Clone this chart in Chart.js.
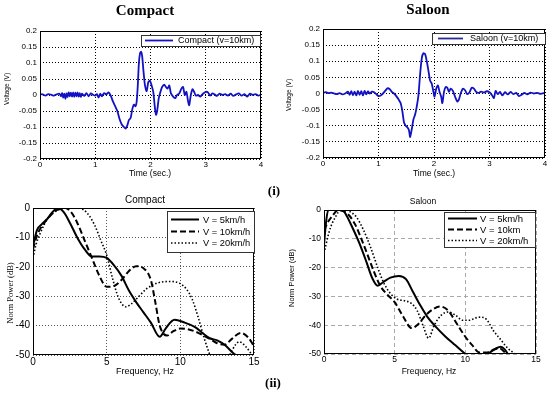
<!DOCTYPE html>
<html>
<head>
<meta charset="utf-8">
<script src="https://cdn.jsdelivr.net/npm/chart.js@4.4.0/dist/chart.umd.min.js"></script>
<style>
  body { margin: 0; background: #fff; }
  #wrap { position: relative; width: 550px; height: 395px; overflow: hidden; }
  canvas { position: absolute; left: 0; top: 0; }
  .t { position: absolute; white-space: nowrap; line-height: 1; color: #000;
       transform: translate(-50%, -50%); font-family: "Liberation Sans", Arial, sans-serif; }
  .r { transform: translate(-50%, -50%) rotate(-90deg); }
  .serif { font-family: "Liberation Serif", "Times New Roman", serif; }
  .bold { font-weight: bold; }
</style>
</head>
<body>
<div id="wrap">
  <canvas id="tl" width="550" height="395"></canvas>
  <canvas id="tr" width="550" height="395"></canvas>
  <canvas id="bl" width="550" height="395"></canvas>
  <canvas id="br" width="550" height="395"></canvas>

  <div class="t serif bold" style="left:145px;top:10px;font-size:15px">Compact</div>
  <div class="t serif bold" style="left:428px;top:9px;font-size:15px">Saloon</div>
  <div class="t r" style="left:7px;top:89px;font-size:6.5px">Voltage (V)</div>
  <div class="t r" style="left:289px;top:95px;font-size:6.5px">Voltage (V)</div>
  <div class="t" style="left:150px;top:173px;font-size:8.5px">Time (sec.)</div>
  <div class="t" style="left:434px;top:173px;font-size:8.5px">Time (sec.)</div>
  <div class="t serif bold" style="left:274px;top:190px;font-size:13px">(i)</div>

  <div class="t" style="left:145px;top:200px;font-size:10px">Compact</div>
  <div class="t" style="left:423px;top:201px;font-size:8.5px">Saloon</div>
  <div class="t r serif" style="left:10px;top:293px;font-size:8.5px">Norm Power (dB)</div>
  <div class="t r" style="left:292px;top:278px;font-size:7.5px">Norm Power (dB)</div>
  <div class="t" style="left:145px;top:371px;font-size:9px">Frequency, Hz</div>
  <div class="t" style="left:429px;top:371px;font-size:8.5px">Frequency, Hz</div>
  <div class="t serif bold" style="left:273px;top:382px;font-size:13px">(ii)</div>
</div>

<script>
// Time signals (v = 10 km)
const compactTime = [0, 0.05, 0.1, 0.15, 0.2, 0.25, 0.3, 0.35, 0.38, 0.4, 0.42, 0.44, 0.46, 0.48, 0.5, 0.52, 0.54, 0.56, 0.58, 0.6,
  0.62, 0.64, 0.66, 0.68, 0.7, 0.72, 0.74, 0.76, 0.8, 0.84, 0.88, 0.92, 0.96, 1.0, 1.03, 1.06, 1.09, 1.12, 1.16, 1.2,
  1.24, 1.28, 1.32, 1.36, 1.4, 1.44, 1.48, 1.52, 1.55, 1.58, 1.61, 1.64, 1.67, 1.7, 1.73, 1.75, 1.77, 1.79, 1.81, 1.83,
  1.85, 1.87, 1.9, 1.93, 1.96, 1.99, 2.02, 2.05, 2.08, 2.1, 2.12, 2.15, 2.18, 2.21, 2.25, 2.28, 2.31, 2.34, 2.37, 2.41,
  2.45, 2.48, 2.52, 2.56, 2.59, 2.62, 2.65, 2.68, 2.7, 2.73, 2.76, 2.79, 2.82, 2.86, 2.9, 2.95, 3.0, 3.04, 3.08, 3.12,
  3.16, 3.2, 3.25, 3.3, 3.35, 3.4, 3.45, 3.5, 3.55, 3.6, 3.65, 3.7, 3.75, 3.8, 3.85, 3.9, 3.95, 4.0];
const compactVolt = [0.003, 0.002, -0.002, 0.003, 0.001, -0.002, 0.002, 0.004, -0.004, 0.006, -0.008, 0.004, -0.012, 0.005, -0.006, 0.008, -0.004, 0.007, -0.005, 0.008,
  -0.006, 0.007, -0.004, 0.008, -0.005, 0.006, -0.006, 0.004, -0.003, 0.006, -0.004, 0.005, 0.001, -0.002, 0.003, -0.008, 0.004, -0.004, 0.006, 0.002,
  0.008, -0.002, -0.02, -0.035, -0.05, -0.075, -0.092, -0.1, -0.105, -0.095, -0.078, -0.072, -0.045, -0.03, -0.035, -0.02, 0.03, 0.1, 0.13, 0.135,
  0.12, 0.08, 0.03, 0.012, 0.04, 0.045, 0.03, 0.01, -0.04, -0.062, -0.05, -0.01, 0.01, 0.025, 0.032, 0.025, 0.02, 0.03, 0.005, -0.005,
  -0.01, 0.0, 0.005, 0.02, 0.025, 0.0, 0.01, -0.02, -0.032, 0.0, 0.018, 0.01, -0.002, 0.0, -0.005, 0.004, 0.01, 0.008, -0.002, 0.005,
  0.002, -0.003, 0.004, 0.0, 0.003, -0.002, 0.004, -0.003, 0.002, 0.005, -0.002, 0.003, -0.005, 0.004, 0.0, 0.003, -0.002, 0.001];

const saloonTime = [0, 0.05, 0.1, 0.15, 0.2, 0.25, 0.3, 0.35, 0.4, 0.45, 0.48, 0.51, 0.54, 0.57, 0.6, 0.63, 0.66, 0.69, 0.72, 0.75,
  0.78, 0.81, 0.84, 0.88, 0.92, 0.96, 1.0, 1.04, 1.08, 1.12, 1.16, 1.2, 1.24, 1.28, 1.32, 1.36, 1.4, 1.43, 1.46, 1.49,
  1.52, 1.55, 1.57, 1.6, 1.63, 1.66, 1.69, 1.72, 1.75, 1.78, 1.81, 1.84, 1.87, 1.9, 1.93, 1.96, 1.99, 2.01, 2.04, 2.07,
  2.1, 2.13, 2.15, 2.18, 2.21, 2.24, 2.27, 2.3, 2.34, 2.38, 2.42, 2.45, 2.48, 2.52, 2.56, 2.6, 2.64, 2.68, 2.72, 2.76,
  2.8, 2.85, 2.9, 2.95, 3.0, 3.04, 3.08, 3.11, 3.15, 3.19, 3.23, 3.28, 3.33, 3.38, 3.43, 3.48, 3.53, 3.58, 3.63, 3.68,
  3.74, 3.8, 3.86, 3.92, 4.0];
const saloonVolt = [0.002, 0.004, 0.001, 0.003, 0.0, -0.002, 0.001, -0.003, 0.0, 0.006, -0.004, 0.007, -0.005, 0.006, -0.006, 0.008, -0.004, 0.007, -0.006, 0.008,
  -0.003, 0.007, 0.0, 0.006, 0.004, -0.002, -0.008, -0.006, 0.0, 0.008, 0.016, 0.014, 0.005, 0.0, -0.008, -0.018, -0.03, -0.055, -0.09, -0.1,
  -0.105, -0.115, -0.135, -0.11, -0.08, -0.065, -0.04, -0.005, 0.06, 0.11, 0.125, 0.122, 0.1, 0.07, 0.04, 0.03, 0.005, -0.01, 0.015, 0.025,
  0.005, -0.01, -0.03, 0.005, 0.02, 0.018, 0.005, 0.015, 0.008, -0.01, -0.025, -0.018, 0.0, 0.015, 0.01, -0.002, 0.004, 0.018, 0.015, 0.005,
  0.002, 0.006, 0.003, 0.007, 0.004, -0.004, -0.014, 0.008, -0.002, 0.005, -0.006, 0.004, -0.003, 0.005, -0.002, 0.002, -0.008, -0.004, 0.002, -0.003,
  0.003, 0.0, 0.002, -0.001, 0.002];

// Normalised power spectra, Compact
const compact5Freq = [0, 0.27, 0.6, 1.0, 1.3, 1.7, 2.1, 2.5, 3.0, 3.5, 4.0, 4.5, 5.0, 5.5, 6.0, 6.5, 7.0, 7.5, 8.0, 8.6, 9.0, 9.6, 10.3, 11.0, 11.5, 12.0, 12.5, 13.0, 13.6, 14.0, 14.5];
const compact5Pow = [-13, -7.5, -5.5, -3.5, -1.5, 0, -1.5, -5, -10, -14, -16.5, -16.5, -17, -19.5, -23, -28, -32, -35.5, -39, -43.8, -41, -38, -39, -40.5, -42.5, -44.3, -45, -46.5, -49.4, -51, -55];
const compact10Freq = [0, 0.3, 0.7, 1.2, 1.7, 2.2, 2.6, 3.0, 3.5, 4.0, 4.5, 5.0, 5.5, 6.0, 6.5, 7.0, 7.5, 8.0, 8.3, 8.6, 9.1, 9.5, 10.0, 10.5, 11.0, 11.5, 12.0, 12.5, 13.0, 13.5, 14.1, 14.6, 15.0];
const compact10Pow = [-14, -9, -5.5, -2.5, -0.5, 0, -1.5, -5, -11, -17, -23, -26.8, -26.5, -24.5, -21.5, -19.8, -20.5, -24.5, -32, -40, -43.4, -42, -41, -41.2, -42, -43.2, -44.5, -46, -46.5, -44.5, -42.5, -44, -47];
const compact20Freq = [0, 0.2, 0.5, 1.0, 1.5, 2.0, 2.5, 3.0, 3.4, 3.8, 4.2, 4.6, 5.0, 5.4, 5.8, 6.3, 6.7, 7.2, 7.7, 8.2, 8.7, 9.3, 9.9, 10.4, 10.8, 11.2, 11.6, 12.0, 12.4, 13.0, 13.5, 14.0, 14.5, 15.0];
const compact20Pow = [-17, -12.5, -8.5, -3.5, -1.2, -0.2, 0, 0, -0.5, -2.5, -6, -11, -16, -24, -30.5, -33.6, -32.5, -30, -27.5, -26, -25.2, -25, -25.5, -27.5, -31, -37, -44, -50, -56, -54, -48.5, -45.5, -47.5, -51];

// Normalised power spectra, Saloon
const saloon5Freq = [0, 0.15, 0.3, 0.7, 1.0, 1.3, 1.6, 2.0, 2.5, 3.0, 3.4, 3.8, 4.2, 4.7, 5.3, 5.8, 6.3, 6.8, 7.3, 7.9, 8.6, 9.3, 10.0, 10.5, 11.0, 11.6, 12.2, 12.5, 12.8, 13.0, 13.3];
const saloon5Pow = [-12, -4, 0, 0, 0, 0, -2, -6, -11.5, -18, -23.5, -26.3, -25, -23.5, -22.9, -24, -28.5, -33, -37, -40.5, -44, -47, -50, -52, -53, -50, -48, -47.5, -48.5, -50, -53];
const saloon10Freq = [0, 0.3, 0.6, 1.0, 1.4, 1.8, 2.2, 2.6, 3.0, 3.5, 4.0, 4.5, 5.0, 5.6, 6.2, 6.7, 7.2, 7.7, 8.2, 8.8, 9.4, 10.0, 10.5, 11.0, 11.5, 12.0, 12.4, 12.8, 13.0, 13.3];
const saloon10Pow = [-7, -4, -2, 0, -0.5, -2, -5, -9.5, -14.5, -21, -26.5, -29.5, -32, -37, -41, -39.5, -36.5, -34.5, -33.5, -35, -39.5, -44, -47, -49.5, -49.5, -48.5, -48, -49.5, -51, -54];
const saloon20Freq = [0, 0.4, 0.8, 1.2, 1.5, 1.8, 2.3, 2.8, 3.3, 3.8, 4.2, 4.7, 5.2, 5.7, 6.2, 6.6, 7.0, 7.4, 7.8, 8.3, 8.8, 9.3, 9.8, 10.3, 10.7, 11.1, 11.5, 12.0, 12.5, 13.0, 13.5, 13.8];
const saloon20Pow = [-15, -7, -2.5, 0, 0, -0.5, -2.5, -7, -13, -20, -25, -29, -31, -31.5, -32.5, -35, -40, -44.5, -40, -36.5, -35.4, -36.5, -38.3, -38.3, -37.5, -37.2, -38, -42, -45, -48, -50, -52];

const BLUE = '#1212c4';
const SANS = 'Liberation Sans';

const toPoints = (xs, ys) => xs.map((x, i) => ({ x: x, y: ys[i] }));

// box round the plot area and a legend drawn inside it
const framePlugin = (legend) => ({
    id: 'frameLegend',
    afterDatasetsDraw(chart) {
        const ctx = chart.ctx;
        const a = chart.chartArea;
        ctx.save();
        ctx.strokeStyle = '#000';
        ctx.lineWidth = 1;
        ctx.setLineDash([]);
        ctx.strokeRect(Math.round(a.left) + 0.5, Math.round(a.top) + 0.5,
            Math.round(a.right - a.left) - 1, Math.round(a.bottom - a.top) - 1);

        const b = legend.box;
        ctx.fillStyle = '#fff';
        ctx.fillRect(b.x, b.y, b.w, b.h);
        ctx.strokeStyle = '#333';
        ctx.strokeRect(b.x + 0.5, b.y + 0.5, b.w, b.h);
        ctx.font = legend.font + 'px "' + SANS + '"';
        ctx.textBaseline = 'middle';
        legend.items.forEach((it, i) => {
            const y = legend.rows[i];
            ctx.strokeStyle = it.color;
            ctx.lineWidth = it.width;
            ctx.setLineDash(it.dash);
            ctx.beginPath();
            ctx.moveTo(legend.x1, y);
            ctx.lineTo(legend.x2, y);
            ctx.stroke();
            ctx.fillStyle = '#000';
            ctx.fillText(it.text, legend.tx, y + 0.5);
        });
        ctx.restore();
    }
});

const axis = (min, max, step, fontSize, gridColor, dash, fit, fmt) => ({
    type: 'linear',
    min: min,
    max: max,
    ticks: {
        stepSize: step,
        padding: fit.pad,
        color: '#000',
        font: { family: SANS, size: fontSize },
        callback: fmt || ((v) => String(Math.round(v * 100) / 100))
    },
    grid: { color: gridColor, lineWidth: 1, drawTicks: false },
    border: { display: false, dash: dash },
    afterFit: (s) => {
        if (fit.w) s.width = fit.w;
        if (fit.h) s.height = fit.h;
    }
});

const baseOptions = (padding, xAxis, yAxis) => ({
    responsive: false,
    animation: false,
    events: [],
    layout: { padding: padding },
    plugins: { legend: { display: false }, tooltip: { enabled: false } },
    scales: { x: xAxis, y: yAxis }
});

// (i) Compact time signal
new Chart(document.getElementById('tl'), {
    type: 'line',
    data: {
        datasets: [{
            data: toPoints(compactTime, compactVolt),
            borderColor: BLUE, borderWidth: 1.8, pointRadius: 0, tension: 0.25
        }]
    },
    options: baseOptions({ left: 10, top: 31, right: 289, bottom: 216 },
        axis(0, 4, 1, 8, '#000', [1, 2], { h: 20, pad: 1 }),
        axis(-0.2, 0.2, 0.05, 8, '#000', [1, 2], { w: 30, pad: 3 })),
    plugins: [framePlugin({
        box: { x: 141, y: 35, w: 119, h: 11 }, font: 9,
        x1: 145, x2: 173, tx: 178, rows: [40.5],
        items: [{ text: 'Compact (v=10km)', color: BLUE, width: 1.8, dash: [] }]
    })]
});

// (i) Saloon time signal
new Chart(document.getElementById('tr'), {
    type: 'line',
    data: {
        datasets: [{
            data: toPoints(saloonTime, saloonVolt),
            borderColor: BLUE, borderWidth: 1.8, pointRadius: 0, tension: 0.25
        }]
    },
    options: baseOptions({ left: 293, top: 29, right: 5, bottom: 217 },
        axis(0, 4, 1, 8, '#000', [1, 2], { h: 20, pad: 1 }),
        axis(-0.2, 0.2, 0.05, 8, '#000', [1, 2], { w: 30, pad: 3 })),
    plugins: [framePlugin({
        box: { x: 432, y: 33, w: 113, h: 11 }, font: 9,
        x1: 438, x2: 463, tx: 470, rows: [38.5],
        items: [{ text: 'Saloon (v=10km)', color: '#2a2a9a', width: 1.8, dash: [] }]
    })]
});

const spectrum = (f, p, dash, width) => ({
    data: toPoints(f, p),
    borderColor: '#000', borderWidth: width, borderDash: dash,
    pointRadius: 0, cubicInterpolationMode: 'monotone'
});

// (ii) Compact spectra
new Chart(document.getElementById('bl'), {
    type: 'line',
    data: {
        datasets: [
            spectrum(compact5Freq, compact5Pow, [], 2),
            spectrum(compact10Freq, compact10Pow, [6, 3], 2),
            spectrum(compact20Freq, compact20Pow, [1.5, 2], 1.6)
        ]
    },
    options: baseOptions({ left: 8, top: 208, right: 296, bottom: 20 },
        axis(0, 15, 5, 10, '#555', [1, 2], { h: 20, pad: 1 }),
        axis(-50, 0, 10, 10, '#555', [1, 2], { w: 25, pad: 3 })),
    plugins: [framePlugin({
        box: { x: 167, y: 211, w: 87, h: 41 }, font: 9.3,
        x1: 171, x2: 199, tx: 203, rows: [219.5, 231.5, 243],
        items: [
            { text: 'V = 5km/h', color: '#000', width: 2, dash: [] },
            { text: 'V = 10km/h', color: '#000', width: 2, dash: [6, 3] },
            { text: 'V = 20km/h', color: '#000', width: 1.6, dash: [1.5, 2] }
        ]
    })]
});

// (ii) Saloon spectra
new Chart(document.getElementById('br'), {
    type: 'line',
    data: {
        datasets: [
            spectrum(saloon5Freq, saloon5Pow, [], 2),
            spectrum(saloon10Freq, saloon10Pow, [6, 3], 2),
            spectrum(saloon20Freq, saloon20Pow, [1.5, 2], 1.6)
        ]
    },
    options: baseOptions({ left: 299, top: 210, right: 14, bottom: 21 },
        axis(0, 15, 5, 8.5, '#aaa', [4, 3], { h: 20, pad: 1 }),
        axis(-50, 0, 10, 8.5, '#aaa', [4, 3], { w: 25, pad: 3 })),
    plugins: [framePlugin({
        box: { x: 444, y: 212, w: 91, h: 35 }, font: 9.5,
        x1: 448, x2: 477, tx: 480, rows: [218.5, 229.5, 240.5],
        items: [
            { text: 'V = 5km/h', color: '#000', width: 2, dash: [] },
            { text: 'V = 10km', color: '#000', width: 2, dash: [6, 3] },
            { text: 'V = 20km/h', color: '#000', width: 1.6, dash: [1.5, 2] }
        ]
    })]
});
</script>
</body>
</html>
